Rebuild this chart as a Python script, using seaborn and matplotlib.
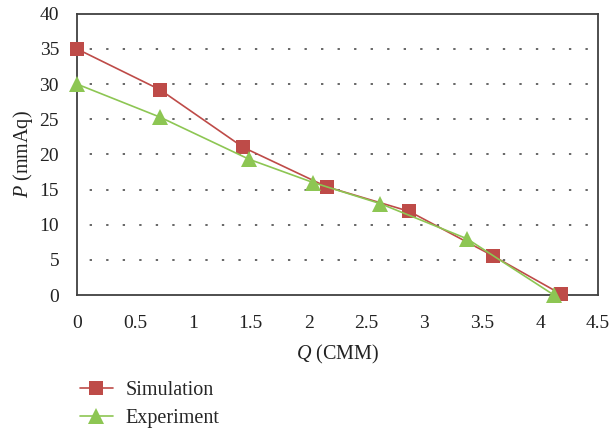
import matplotlib
matplotlib.use("Agg")
import matplotlib.pyplot as plt
import seaborn as sns
import pandas as pd

sim_q = [0.0, 0.717, 1.436, 2.156, 2.87, 3.59, 4.185]
sim_p = [35.0, 29.2, 21.0, 15.4, 11.9, 5.6, 0.1]
exp_q = [0.0, 0.717, 1.488, 2.04, 2.62, 3.37, 4.12]
exp_p = [30.0, 25.3, 19.3, 16.0, 13.0, 8.0, 0.0]
series_names = ["Simulation", "Experiment"]
x_ticks = [0, 0.5, 1, 1.5, 2, 2.5, 3, 3.5, 4, 4.5]
x_tick_labels = ["0", "0.5", "1", "1.5", "2", "2.5", "3", "3.5", "4", "4.5"]
y_ticks = [0, 5, 10, 15, 20, 25, 30, 35, 40]

df = pd.DataFrame({
    "Q": sim_q + exp_q,
    "P": sim_p + exp_p,
    "series": [series_names[0]] * len(sim_q) + [series_names[1]] * len(exp_q),
})

sns.set_style("white")
plt.rcParams["font.family"] = ["Liberation Serif", "DejaVu Serif"]
plt.rcParams["mathtext.fontset"] = "custom"
plt.rcParams["mathtext.rm"] = "Liberation Serif"
plt.rcParams["mathtext.it"] = "Liberation Serif:italic"

fig = plt.figure(figsize=(6.12, 4.32), dpi=100)
ax = fig.add_axes([0.126, 0.317, 0.851, 0.651])

red = "#BE4B48"
green = "#8DC653"
palette = {"Simulation": red, "Experiment": green}
sns.lineplot(data=df, x="Q", y="P", hue="series", style="series",
             markers={"Simulation": "s", "Experiment": "^"}, dashes=False,
             palette=palette, markersize=9.5, linewidth=1.2, markeredgewidth=0,
             sort=False, ax=ax, legend=True, clip_on=False, zorder=3)

for ln in ax.lines:
    if ln.get_marker() == "^":
        ln.set_markersize(11)
    ln.set_clip_on(False)

ax.set_xlim(0, 4.5)
ax.set_ylim(0, 40)
ax.set_xticks(x_ticks)
ax.set_xticklabels(x_tick_labels)
ax.set_yticks(y_ticks)
ax.tick_params(axis="both", direction="out", length=7, width=1.2, colors="#404040",
               labelsize=14, labelcolor="#222222")
ax.tick_params(axis="x", pad=7)
ax.tick_params(axis="y", pad=6)
for s in ax.spines.values():
    s.set_visible(True)
    s.set_color("#404040")
    s.set_linewidth(1.3)
for yv in y_ticks[1:-1]:
    ax.axhline(yv, color="#666666", linestyle=(2, (1.2, 7.3)), linewidth=1.4, zorder=0)

ax.set_xlabel(r"$\it{Q}$ (CMM)", fontsize=14.5, color="#222222", labelpad=8)
ax.set_ylabel(r"$\it{P}$ (mmAq)", fontsize=14.5, color="#222222", labelpad=3)

handles, labels = ax.get_legend_handles_labels()
for h in handles:
    if h.get_marker() == "^":
        h.set_markersize(11)
ax.legend(handles, labels, loc="upper left", bbox_to_anchor=(0.13, 0.118),
          bbox_transform=fig.transFigure, frameon=False, fontsize=14.5,
          handlelength=1.65, handletextpad=0.65, labelspacing=0.45, borderpad=0,
          borderaxespad=0)

fig.savefig("out.png", dpi=100)
